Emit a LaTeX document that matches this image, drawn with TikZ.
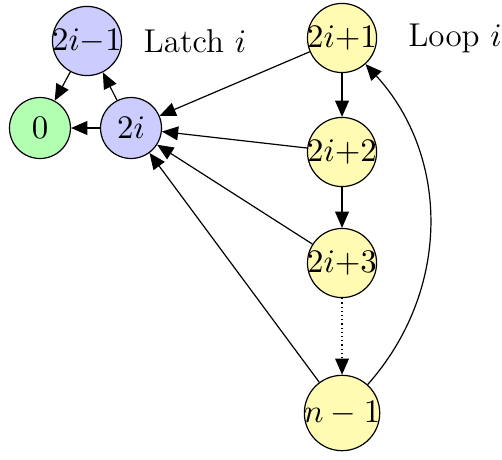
\documentclass[tikz,border=0pt]{standalone}
\usetikzlibrary{arrows.meta}

\begin{document}
\begin{tikzpicture}[
  font=\fontsize{11}{13}\selectfont,
  state/.style={circle, draw, inner sep=-0.6pt, minimum size=0.714cm},
  latch/.style={state, fill=blue!20},
  loop/.style={state, fill=yellow!30},
  edge/.style={-{Triangle[length=5.4pt,width=4.6pt]}},
]
  \useasboundingbox (0,0) rectangle (5.878,5.375);
  \node[latch] (l1) at (1.019,4.895) {$2i{-}1$};
  \node[state, fill=green!30] (z) at (0.468,3.876) {$0$};
  \node[latch] (l2) at (1.534,3.876) {$2i$};
  \node (lt) at (2.283,4.895) {Latch $i$};
  \node[loop] (p1) at (4.005,4.930) {$2i{+}1$};
  \node[loop] (p2) at (4.005,3.595) {$2i{+}2$};
  \node[loop] (p3) at (4.005,2.295) {$2i{+}3$};
  \node[loop] (pn) at (4.005,0.539) {$n-1$};
  \node (lp) at (5.328,4.930) {Loop $i$};

  \draw[edge] (l1) -- (z);
  \draw[edge] (l2) -- (l1);
  \draw[edge] (l2) -- (z);
  \draw[edge] (p1) -- (l2);
  \draw[edge] (p2) -- (l2);
  \draw[edge] (p3) -- (l2);
  \draw[edge] (pn) -- (l2);
  \draw[edge] (p1) -- (p2);
  \draw[edge] (p2) -- (p3);
  \draw[edge, densely dotted] (p3) -- (pn);
  \draw[edge] (pn) to[bend right=42] (p1);
\end{tikzpicture}
\end{document}
